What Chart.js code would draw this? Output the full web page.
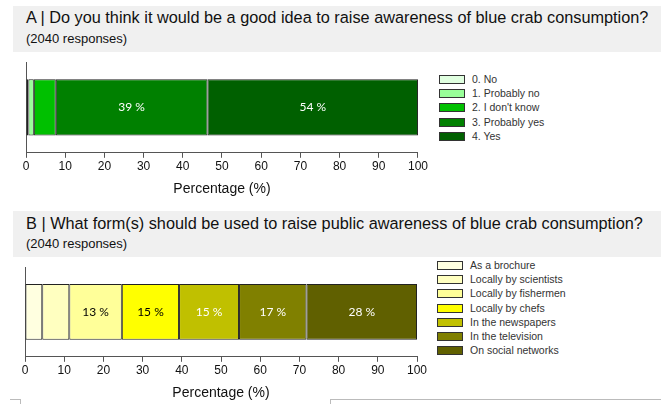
<!DOCTYPE html>
<html lang="en">
  <head>
    <meta charset="UTF-8" />
    <title>Blue crab awareness</title>
    <script src="https://cdn.jsdelivr.net/npm/chart.js@4.4.0/dist/chart.umd.min.js"></script>
    <style>
      body { margin: 0; width: 661px; height: 404px; position: relative; background: #fff; font-family: "Liberation Sans", Arial, sans-serif; overflow: hidden; }
      .panel { position: absolute; left: 13px; width: 648px; background: #f0f0f0; }
      .title { position: absolute; left: 13px; font-size: 16.3px; color: #111; white-space: nowrap; }
      .sub { position: absolute; left: 13px; font-size: 13px; color: #111; white-space: nowrap; }
      .box { position: absolute; }
      .legend { position: absolute; font-size: 10.5px; color: #333; }
      .legend div { position: absolute; left: 0; white-space: nowrap; }
      .legend span.sw { position: absolute; left: 0; width: 24px; height: 7px; border: 1px solid #333; }
      .legend span.tx { position: absolute; left: 33px; line-height: 12px; }
      .edge { position: absolute; border-top: 1px solid #bbb; height: 4px; }
    </style>
  </head>
  <body>
    <div class="panel" style="top:6px;height:46px">
      <div class="title" style="top:2px">A | Do you think it would be a good idea to raise awareness of blue crab consumption?</div>
      <div class="sub" style="top:25px">(2040 responses)</div>
    </div>
    <div class="box" style="left:0;top:52px;width:430px;height:148px"><canvas id="chartA"></canvas></div>
    <div class="legend" id="legendA" style="left:439px;top:79px"></div>

    <div class="panel" style="top:211px;height:46px">
      <div class="title" style="top:3px">B | What form(s) should be used to raise public awareness of blue crab consumption?</div>
      <div class="sub" style="top:25px">(2040 responses)</div>
    </div>
    <div class="box" style="left:0;top:257px;width:430px;height:147px"><canvas id="chartB"></canvas></div>
    <div class="legend" id="legendB" style="left:437px;top:265px"></div>

    <div class="edge" style="left:10px;top:399px;width:10px;border-right:1px solid #bbb"></div>
    <div class="edge" style="left:330px;top:399px;width:331px;border-left:1px solid #bbb"></div>

    <script>
      // chart A data
      const catsA = ['0. No', '1. Probably no', "2. I don't know", '3. Probably yes', '4. Yes'];
      const valsA = [0.6, 1.4, 5.6, 38.7, 53.7];
      const colorsA = ['#e0ffe0', '#99ff99', '#00c000', '#008000', '#006000'];
      const textA = ['#000', '#000', '#000', '#fff', '#fff'];

      // chart B data
      const catsB = ['As a brochure', 'Locally by scientists', 'Locally by fishermen', 'Locally by chefs', 'In the newspapers', 'In the television', 'On social networks'];
      const valsB = [4.4, 6.9, 13.4, 14.6, 15.3, 17.2, 28.2];
      const colorsB = ['#ffffe0', '#ffffc0', '#ffff99', '#ffff00', '#c0c000', '#808000', '#606000'];
      const textB = ['#000', '#000', '#000', '#000', '#fff', '#fff', '#fff'];

      const xTicks = [0, 10, 20, 30, 40, 50, 60, 70, 80, 90, 100];

      // write percent text inside the big segments
      const segLabels = {
        id: 'segLabels',
        afterDatasetsDraw(chart) {
          const ctx = chart.ctx;
          ctx.save();
          ctx.font = '12px Lato';
          ctx.textAlign = 'center';
          ctx.textBaseline = 'middle';
          chart.data.datasets.forEach((ds, i) => {
            const v = ds.data[0];
            if (v < 10) return;
            const bar = chart.getDatasetMeta(i).data[0];
            ctx.fillStyle = ds.textColor;
            ctx.fillText(Math.round(v) + ' %', (bar.x + bar.base) / 2, bar.y);
          });
          ctx.restore();
        }
      };

      function makeChart(id, cats, vals, colors, texts, pad) {
        const datasets = cats.map((c, i) => ({
          label: c,
          data: [vals[i]],
          backgroundColor: colors[i],
          borderColor: '#222',
          borderWidth: 1,
          borderSkipped: false,
          textColor: texts[i],
          categoryPercentage: 1,
          barPercentage: 0.62
        }));
        return new Chart(document.getElementById(id), {
          type: 'bar',
          data: { labels: [''], datasets: datasets },
          options: {
            indexAxis: 'y',
            responsive: true,
            maintainAspectRatio: false,
            animation: false,
            layout: { padding: pad },
            plugins: { legend: { display: false }, tooltip: { enabled: false } },
            scales: {
              x: {
                stacked: true, min: 0, max: 100,
                afterBuildTicks: s => { s.ticks = xTicks.map(v => ({ value: v })); },
                ticks: { color: '#111', font: { size: 12, family: 'Liberation Sans' }, padding: 2, maxRotation: 0 },
                grid: { drawOnChartArea: false, tickLength: 5, color: '#555' },
                border: { color: '#555' },
                title: { display: true, text: 'Percentage (%)', color: '#111', font: { size: 14, family: 'Liberation Sans' }, padding: { top: 5, bottom: 2 } }
              },
              y: {
                stacked: true,
                afterFit: s => { s.width = 0; },
                ticks: { display: false },
                grid: { display: false },
                border: { color: '#555' }
              }
            }
          },
          plugins: [segLabels]
        });
      }

      function makeLegend(id, cats, colors, gap) {
        const el = document.getElementById(id);
        cats.forEach((c, i) => {
          const row = document.createElement('div');
          row.style.top = (i * gap - 4) + 'px';
          row.innerHTML = '<span class="sw" style="background:' + colors[i] + '"></span><span class="tx" style="top:-2px">' + c + '</span>';
          el.appendChild(row);
        });
      }

      makeChart('chartA', catsA, valsA, colorsA, textA, { left: 26, right: 12, top: 10, bottom: 0 });
      makeChart('chartB', catsB, valsB, colorsB, textB, { left: 25, right: 13, top: 10, bottom: 0 });
      makeLegend('legendA', catsA, colorsA, 14.2);
      makeLegend('legendB', catsB, colorsB, 14.2);
    </script>
  </body>
</html>
